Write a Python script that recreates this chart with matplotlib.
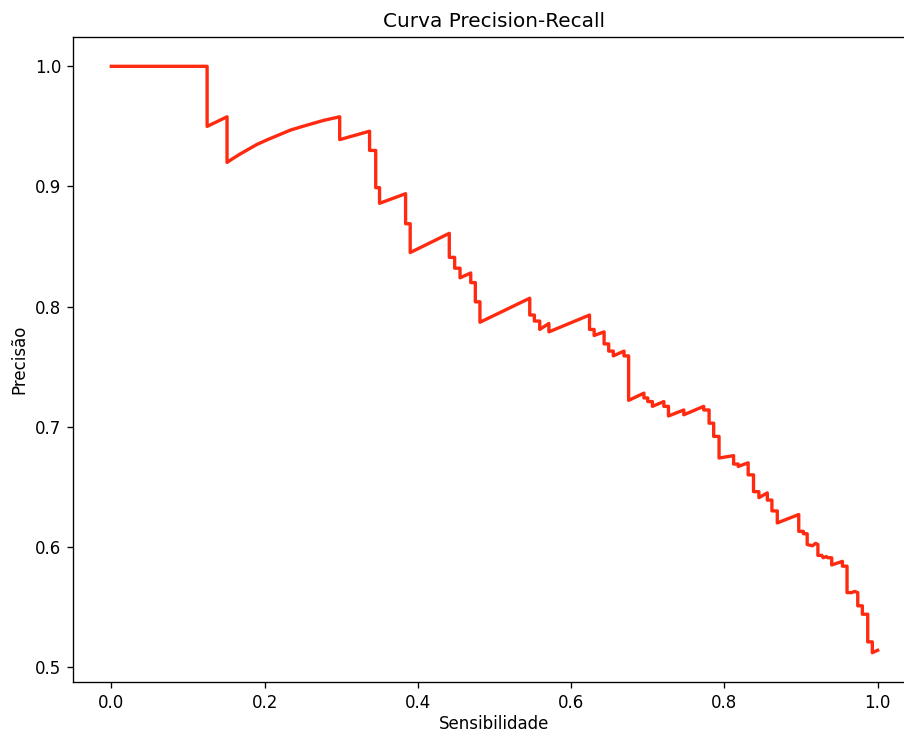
import matplotlib
matplotlib.use('Agg')
import matplotlib.pyplot as plt

# pontos (sensibilidade, precisao)
recall = [0.0, 0.125, 0.125, 0.151, 0.151, 0.158, 0.168, 0.190, 0.204, 0.234, 0.255, 0.277, 0.298,
          0.298, 0.337, 0.337, 0.345, 0.345, 0.350, 0.350, 0.384, 0.384, 0.390, 0.390,
          0.441, 0.441, 0.448, 0.448, 0.455, 0.455, 0.469, 0.469, 0.475, 0.475, 0.481, 0.481,
          0.546, 0.546, 0.552, 0.552, 0.559, 0.559, 0.571, 0.571, 0.624, 0.624, 0.630, 0.630,
          0.643, 0.643, 0.649, 0.649, 0.655, 0.655, 0.669, 0.669, 0.675, 0.675,
          0.695, 0.695, 0.700, 0.700, 0.706, 0.706, 0.721, 0.721, 0.727, 0.727,
          0.747, 0.747, 0.773, 0.773, 0.780, 0.780, 0.786, 0.786, 0.793, 0.793,
          0.812, 0.812, 0.818, 0.818, 0.831, 0.831, 0.838, 0.838, 0.845, 0.845,
          0.856, 0.856, 0.862, 0.862, 0.869, 0.869, 0.897, 0.897, 0.903, 0.903,
          0.908, 0.908, 0.915, 0.919, 0.922, 0.922, 0.927, 0.929, 0.933, 0.935, 0.940, 0.940,
          0.954, 0.954, 0.960, 0.960, 0.966, 0.970, 0.974, 0.974, 0.980, 0.980,
          0.987, 0.987, 0.993, 0.993, 1.0]
precision = [1.0, 1.0, 0.950, 0.958, 0.920, 0.923, 0.927, 0.935, 0.939, 0.947, 0.951, 0.955, 0.958,
             0.939, 0.946, 0.930, 0.930, 0.899, 0.899, 0.886, 0.894, 0.869, 0.869, 0.845,
             0.861, 0.841, 0.841, 0.832, 0.832, 0.824, 0.828, 0.820, 0.820, 0.804, 0.804, 0.787,
             0.807, 0.793, 0.793, 0.788, 0.788, 0.781, 0.786, 0.779, 0.793, 0.781, 0.781, 0.776,
             0.779, 0.769, 0.769, 0.763, 0.763, 0.759, 0.763, 0.759, 0.759, 0.722,
             0.728, 0.724, 0.724, 0.721, 0.721, 0.717, 0.721, 0.717, 0.717, 0.709,
             0.714, 0.710, 0.717, 0.714, 0.714, 0.703, 0.703, 0.692, 0.692, 0.674,
             0.676, 0.669, 0.669, 0.667, 0.670, 0.660, 0.660, 0.646, 0.646, 0.641,
             0.645, 0.639, 0.639, 0.630, 0.630, 0.620, 0.627, 0.613, 0.613, 0.611,
             0.611, 0.602, 0.601, 0.603, 0.602, 0.593, 0.593, 0.591, 0.592, 0.591, 0.591, 0.585,
             0.588, 0.584, 0.584, 0.562, 0.562, 0.563, 0.562, 0.551, 0.551, 0.544,
             0.544, 0.521, 0.521, 0.512, 0.514]

fig = plt.figure(figsize=(904 / 120, 733 / 120), dpi=120)
ax = fig.add_axes([73 / 904, 51 / 733, 843 / 904, 645 / 733])
ax.plot(recall, precision, color='#ff2a10', linewidth=2)
ax.set_title('Curva Precision-Recall')
ax.set_xlabel('Sensibilidade', labelpad=2)
ax.set_ylabel('Precisão')
fig.savefig('out.png', dpi=120)
